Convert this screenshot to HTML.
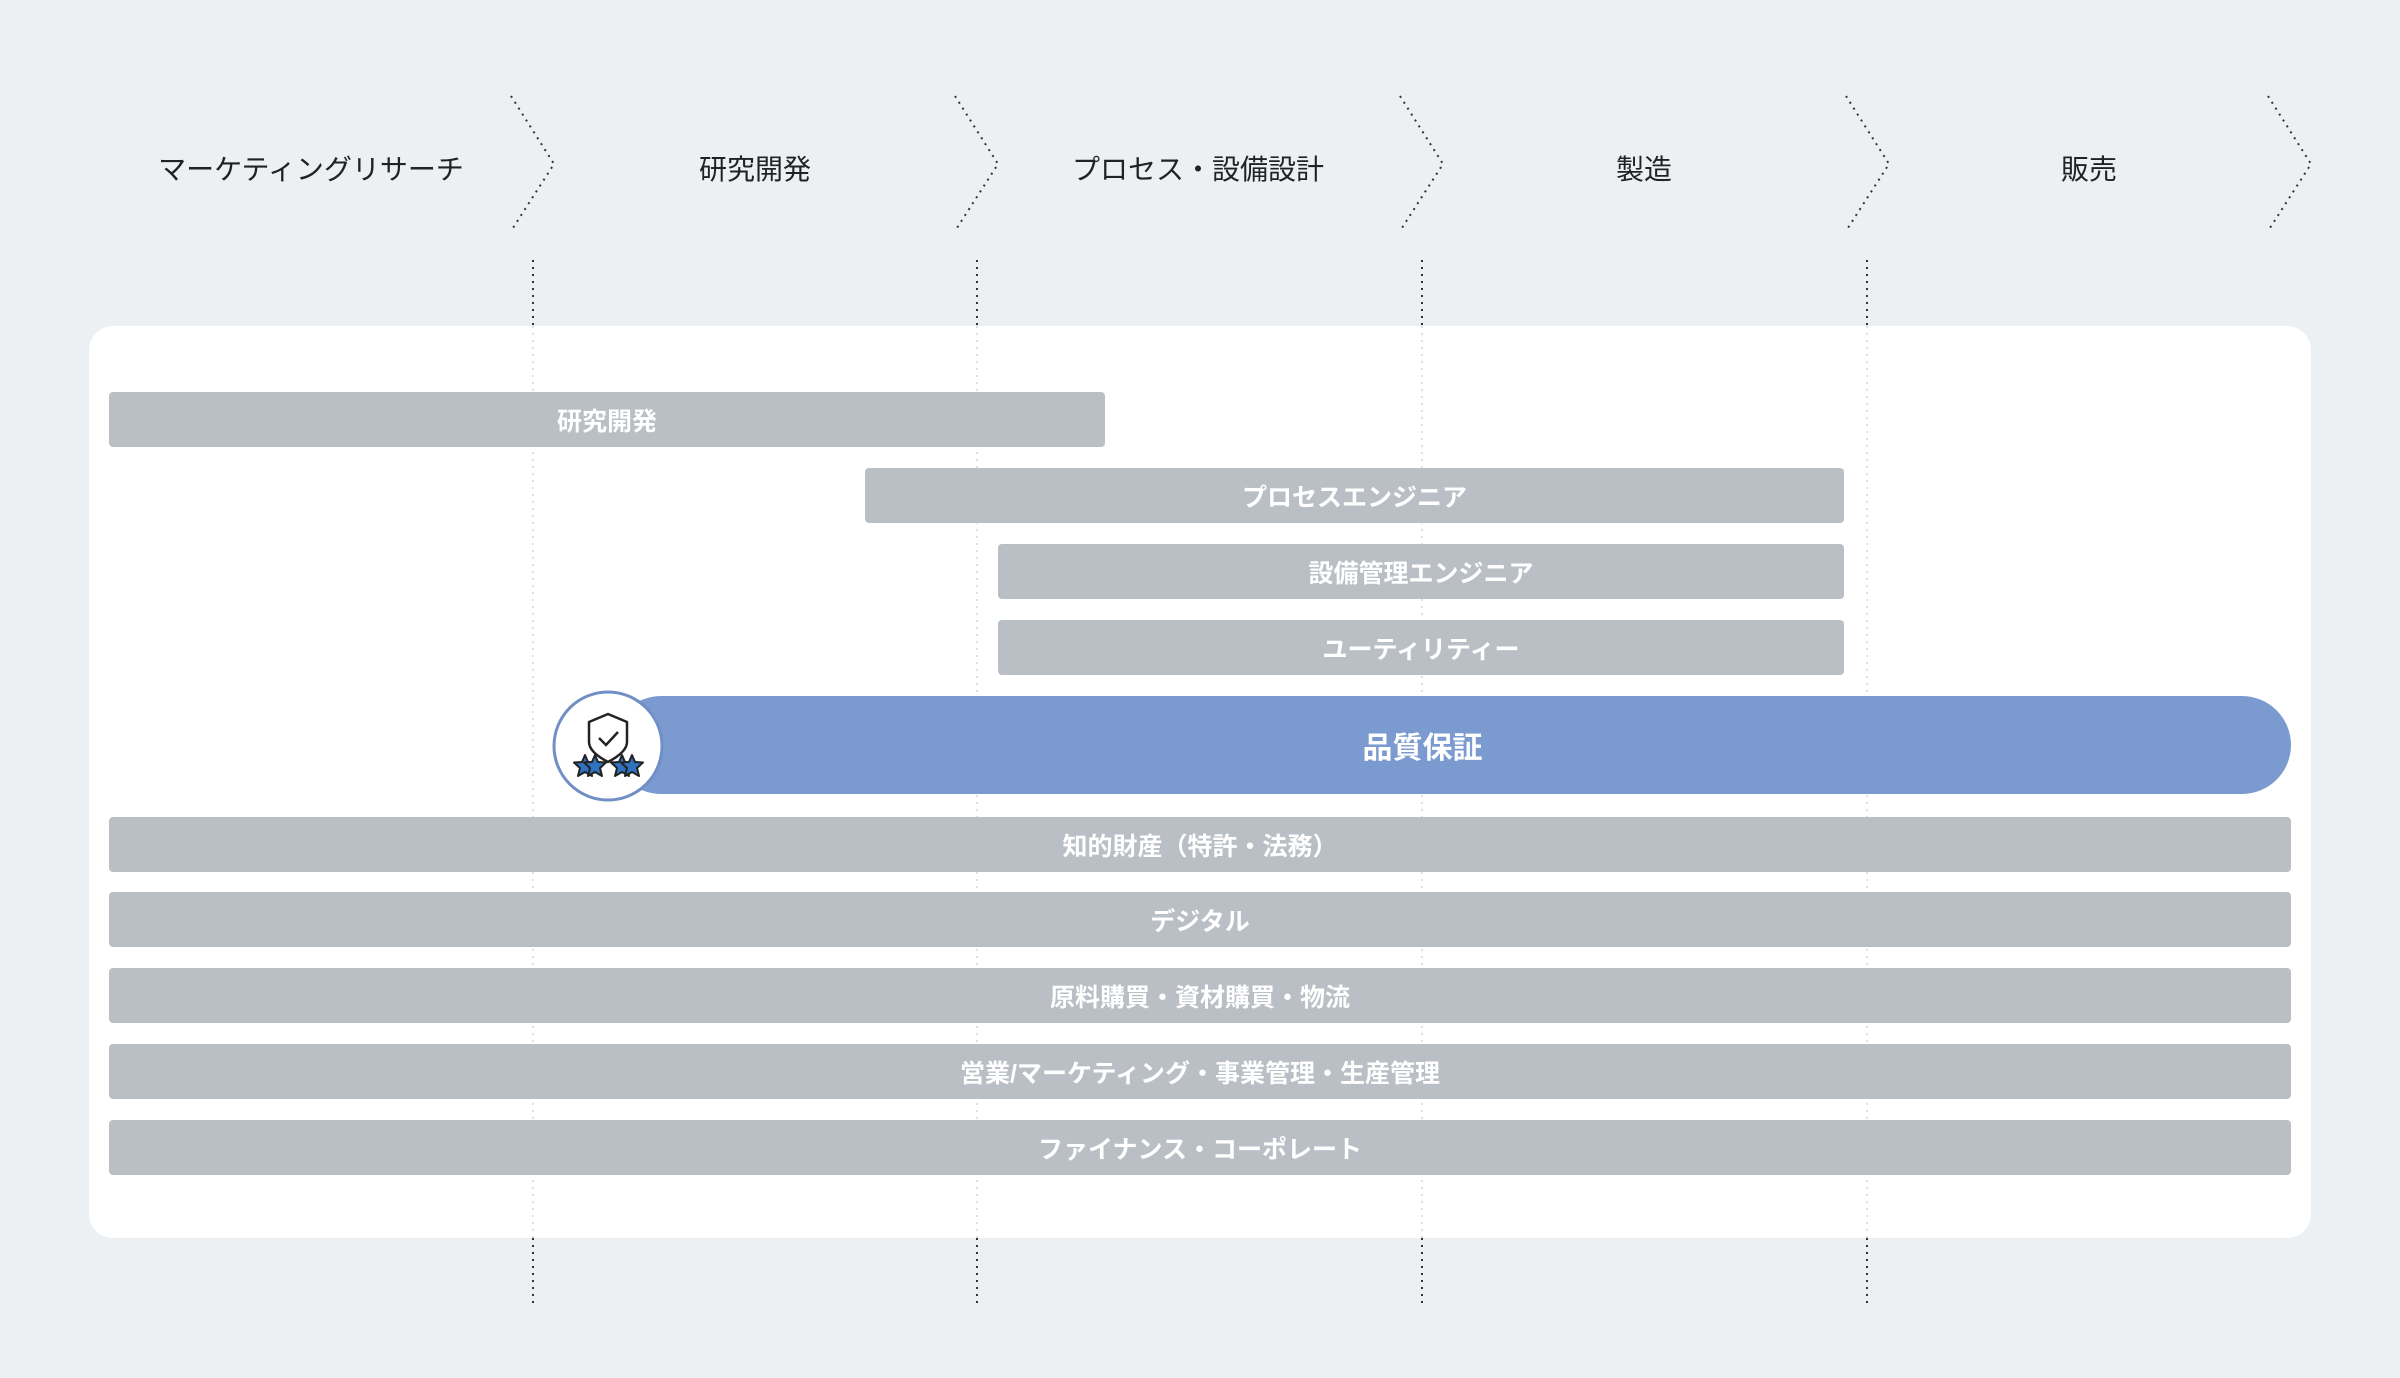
<!DOCTYPE html>
<html><head><meta charset="utf-8"><style>
body{margin:0;width:2400px;height:1378px;background:#edf0f3;position:relative;overflow:hidden;font-family:"Liberation Sans","Noto Sans CJK JP",sans-serif}
.h{position:absolute;top:148px;font-size:28px;color:#222;transform:translateX(-50%);white-space:nowrap}
.card{position:absolute;left:89px;top:326px;width:2222px;height:912px;background:#fff;border-radius:24px}
.b{position:absolute;height:55px;background:#babfc6;border-radius:4px;color:#fff;font-weight:bold;font-size:25px;display:flex;align-items:center;justify-content:center;white-space:nowrap}
svg{position:absolute;left:0;top:0}
</style></head><body>
<div class="h" style="left:311px">マーケティングリサーチ</div>
<div class="h" style="left:755px">研究開発</div>
<div class="h" style="left:1198px">プロセス・設備設計</div>
<div class="h" style="left:1644px">製造</div>
<div class="h" style="left:2089px">販売</div>
<div class="card"></div>
<svg width="2400" height="1378">
<g fill="none" stroke="#333" stroke-width="2" stroke-dasharray="2 5">
<polyline points="511,96 554,164 511,231"/>
<polyline points="955,96 998,164 955,231"/>
<polyline points="1400,96 1443,164 1400,231"/>
<polyline points="1846,96 1889,164 1846,231"/>
<polyline points="2268,96 2311,164 2268,231"/>
<line x1="533" y1="260" x2="533" y2="326"/><line x1="533" y1="1238" x2="533" y2="1306"/>
<line x1="977" y1="260" x2="977" y2="326"/><line x1="977" y1="1238" x2="977" y2="1306"/>
<line x1="1422" y1="260" x2="1422" y2="326"/><line x1="1422" y1="1238" x2="1422" y2="1306"/>
<line x1="1867" y1="260" x2="1867" y2="326"/><line x1="1867" y1="1238" x2="1867" y2="1306"/>
</g>
<g stroke="#dde0e4" stroke-width="2" stroke-dasharray="2 5">
<line x1="533" y1="326" x2="533" y2="1238"/><line x1="977" y1="326" x2="977" y2="1238"/>
<line x1="1422" y1="326" x2="1422" y2="1238"/><line x1="1867" y1="326" x2="1867" y2="1238"/>
</g>
</svg>
<div class="b" style="left:109px;top:392px;width:996px">研究開発</div>
<div class="b" style="left:865px;top:468px;width:979px">プロセスエンジニア</div>
<div class="b" style="left:998px;top:544px;width:846px">設備管理エンジニア</div>
<div class="b" style="left:998px;top:620px;width:846px">ユーティリティー</div>
<div class="b" style="left:612px;top:696px;width:1679px;height:98px;border-radius:49px;background:#7b9bd0;font-size:30px"><span style="margin-left:-58px">品質保証</span></div>
<div class="b" style="left:109px;top:817px;width:2182px">知的財産（特許・法務）</div>
<div class="b" style="left:109px;top:892px;width:2182px">デジタル</div>
<div class="b" style="left:109px;top:968px;width:2182px">原料購買・資材購買・物流</div>
<div class="b" style="left:109px;top:1044px;width:2182px">営業/マーケティング・事業管理・生産管理</div>
<div class="b" style="left:109px;top:1120px;width:2182px">ファイナンス・コーポレート</div>
<svg width="2400" height="1378" style="pointer-events:none">
<circle cx="608" cy="746" r="54" fill="#fff" stroke="#6f8fc6" stroke-width="3"/>
<path d="M608,714 L627,722 L627,742 Q627,752 608,762 Q589,752 589,742 L589,722 Z" fill="none" stroke="#222" stroke-width="2.5" stroke-linejoin="round"/>
<polyline points="599,738 606,745 618,732" fill="none" stroke="#222" stroke-width="2.5"/>
<g fill="#2f73c0" stroke="#222" stroke-width="2" stroke-linejoin="round">
<polygon id="s" points="0,-11 3,-4 11,-3.5 5,2 7,10 0,6 -7,10 -5,2 -11,-3.5 -3,-4" transform="translate(585,766)"/>
<use href="#s" transform="translate(10,0)"/>
<use href="#s" transform="translate(37,0)"/>
<use href="#s" transform="translate(47,0)"/>
</g>
</svg>
</body></html>
